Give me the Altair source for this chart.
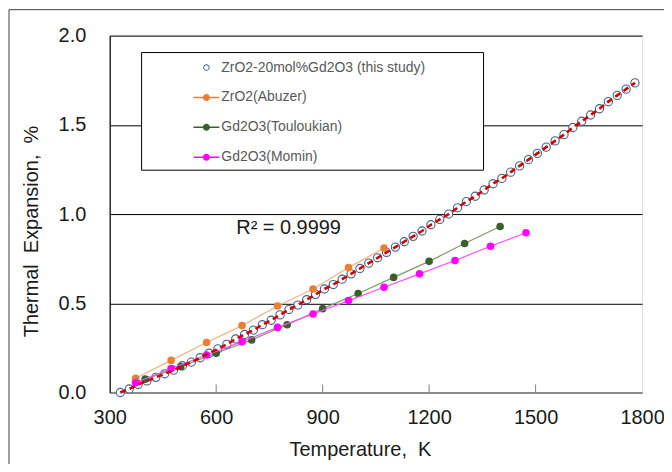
import altair as alt
import pandas as pd

# ---------------- data ----------------
series_names = ["ZrO2-20mol%Gd2O3 (this study)", "ZrO2(Abuzer)",
                "Gd2O3(Touloukian)", "Gd2O3(Momin)"]

study_T = [330, 355, 380, 405, 430, 455, 480, 505, 530, 555, 580, 605, 630, 655,
           680, 705, 730, 755, 780, 805, 830, 855, 880, 905, 930, 955, 980, 1005,
           1030, 1055, 1080, 1105, 1130, 1155, 1180, 1205, 1230, 1255, 1280, 1305,
           1330, 1355, 1380, 1405, 1430, 1455, 1480, 1505, 1530, 1555, 1580, 1605,
           1630, 1655, 1680, 1705, 1730, 1755, 1780]
study_val = [0.000, 0.020, 0.045, 0.065, 0.085, 0.105, 0.125, 0.150, 0.170, 0.195,
             0.220, 0.245, 0.270, 0.300, 0.325, 0.350, 0.380, 0.405, 0.435, 0.465,
             0.490, 0.520, 0.550, 0.580, 0.605, 0.635, 0.665, 0.695, 0.725, 0.755,
             0.785, 0.815, 0.845, 0.875, 0.905, 0.940, 0.970, 1.000, 1.035, 1.070,
             1.100, 1.135, 1.170, 1.200, 1.235, 1.270, 1.305, 1.340, 1.375, 1.410,
             1.445, 1.485, 1.520, 1.555, 1.590, 1.630, 1.665, 1.700, 1.735]

abuzer_T = [373, 473, 573, 673, 773, 873, 973, 1073]
abuzer_val = [0.08, 0.18, 0.28, 0.375, 0.485, 0.58, 0.70, 0.81]

toulou_T = [400, 500, 600, 700, 800, 900, 1000, 1100, 1200, 1300, 1400]
toulou_val = [0.075, 0.145, 0.22, 0.295, 0.38, 0.47, 0.555, 0.645, 0.735, 0.835, 0.93]

momin_T = [373, 473, 573, 673, 773, 873, 973, 1073, 1173, 1273, 1373, 1473]
momin_val = [0.055, 0.135, 0.21, 0.285, 0.365, 0.44, 0.515, 0.59, 0.665, 0.74, 0.82, 0.895]

r2_T = [804]
r2_val = [0.922]
r2_text = ["R\u00b2 = 0.9999"]

x_ticks = [300, 600, 900, 1200, 1500, 1800]
inner_ticks = [600, 900, 1200, 1500]
y_ticks = [0.0, 0.5, 1.0, 1.5, 2.0]

NB = "\u00a0"
x_title = "Temperature," + NB + NB + "K"
y_title = "Thermal" + NB + NB + "Expansion," + NB + NB + "%"

# ---------------- styles ----------------
FONT = "Liberation Sans"
TXT = "#1a1a1a"
dot_colors = ["#44618F", "#ED7D31", "#3B5E2B", "#FF00FF"]
line_colors = {"ab": "#F4B183", "tl": "#7E9B6A", "mo": "#FF4DFF"}

ring = ("M-0.25,0A0.25,0.25 0 1,1 0.25,0A0.25,0.25 0 1,1 -0.25,0Z "
        "M-0.18,0A0.18,0.18 0 1,0 0.18,0A0.18,0.18 0 1,0 -0.18,0Z")
linedot = ("M-1,-0.055H1V0.055H-1Z "
           "M-0.27,0A0.27,0.27 0 1,1 0.27,0A0.27,0.27 0 1,1 -0.27,0Z")
shape_paths = [ring, linedot, linedot, linedot]

x_enc = alt.X("T:Q",
              scale=alt.Scale(domain=[300, 1800], nice=False, zero=False),
              axis=alt.Axis(values=x_ticks, format="d", title=x_title, grid=False,
                            ticks=False, tickSize=0, labelPadding=15,
                            labelFontSize=20, labelFont=FONT, labelColor=TXT,
                            labelFlush=False, labelOverlap=False,
                            titleFontSize=20, titleFont=FONT, titleColor=TXT,
                            titleFontWeight="normal", titleX=251, titleY=57,
                            titleBaseline="middle", titleAlign="center",
                            domainColor="#7f7f7f", domainWidth=1.5))
y_enc = alt.Y("v:Q",
              scale=alt.Scale(domain=[0, 2], nice=False, zero=True),
              axis=alt.Axis(values=y_ticks, format=".1f",
                            title=y_title, grid=True,
                            gridColor={"condition": {"test": "datum.value === 0", "value": "#7f7f7f"},
                                       "value": "#000000"},
                            gridWidth=1, ticks=False, tickSize=0, labelPadding=24,
                            labelFontSize=20, labelFont=FONT, labelColor=TXT,
                            labelFlush=False, labelOverlap=False,
                            titleFontSize=20, titleFont=FONT, titleColor=TXT,
                            titleFontWeight="normal", titleX=-78, titleY=196,
                            titleAngle=270, titleBaseline="middle", titleAlign="center",
                            domainColor="#000000", domainWidth=1.2))

study_df = pd.DataFrame({"T": study_T, "v": study_val})
ab_df = pd.DataFrame({"T": abuzer_T, "v": abuzer_val})
tl_df = pd.DataFrame({"T": toulou_T, "v": toulou_val})
mo_df = pd.DataFrame({"T": momin_T, "v": momin_val})
r2_df = pd.DataFrame({"T": r2_T, "v": r2_val, "label": r2_text})
tick_df = pd.DataFrame({"T": inner_ticks})
one = pd.DataFrame({"k": [0]})

# outer frame and legend box (decoration)
frame = alt.Chart(one).mark_rect(fillOpacity=0, stroke="#404040", strokeWidth=1).encode(
    x=alt.value(-101), x2=alt.value(620), y=alt.value(-26), y2=alt.value(470))
legend_box = alt.Chart(one).mark_rect(fill="white", stroke="#000000", strokeWidth=1).encode(
    x=alt.value(32), x2=alt.value(375), y=alt.value(17), y2=alt.value(135))

study_pts = alt.Chart(study_df).mark_point(
    shape="circle", size=68, filled=False, fill="white", fillOpacity=1,
    stroke=dot_colors[0], strokeWidth=1.1, opacity=1).encode(x=x_enc, y=y_enc)

def series(df, lc, dc):
    ln = alt.Chart(df).mark_line(color=lc, strokeWidth=1.2).encode(x=x_enc, y=y_enc)
    pt = alt.Chart(df).mark_point(shape="circle", filled=True, size=58, color=dc,
                                  opacity=1, strokeWidth=0).encode(x=x_enc, y=y_enc)
    return ln, pt

ab_line, ab_pts = series(ab_df, line_colors["ab"], dot_colors[1])
tl_line, tl_pts = series(tl_df, line_colors["tl"], dot_colors[2])
mo_line, mo_pts = series(mo_df, line_colors["mo"], dot_colors[3])

fit = alt.Chart(study_df).mark_line(color="#D00000", strokeWidth=2.6,
                                    strokeDash=[6, 4]).encode(x=x_enc, y=y_enc)

ticks = alt.Chart(tick_df).mark_rule(color="#7f7f7f", strokeWidth=1).encode(
    x=x_enc, y=alt.datum(0), y2=alt.datum(0.045))

r2 = alt.Chart(r2_df).mark_text(fontSize=20, font=FONT, color=TXT, align="center",
                                baseline="middle").encode(x=x_enc, y=y_enc, text="label:N")

leg = alt.Legend(orient="none", legendX=84, legendY=19, title=None, padding=0,
                 rowPadding=10, labelOffset=2, symbolSize=676, symbolStrokeWidth=0,
                 labelFontSize=14, labelFont=FONT, labelColor="#595959",
                 labelLimit=400, symbolOpacity=1)
legend_layer = alt.Chart(pd.DataFrame({"series": series_names})).mark_point(
    filled=True, opacity=1).transform_filter("false").encode(
    color=alt.Color("series:N", scale=alt.Scale(domain=series_names, range=dot_colors), legend=leg),
    shape=alt.Shape("series:N", scale=alt.Scale(domain=series_names, range=shape_paths), legend=leg))

chart = alt.layer(
    frame, legend_box, study_pts, ab_line, ab_pts, tl_line, tl_pts, mo_line, mo_pts,
    fit, ticks, r2, legend_layer
).properties(
    width=534, height=358,
    padding={"left": 102, "top": 27, "right": 22, "bottom": 71},
    autosize=alt.AutoSizeParams(type="none"),
).configure_view(stroke="#7f7f7f", strokeWidth=1.5).configure(font=FONT, background="white")

chart.save("out.html", embed_options={"renderer": "svg", "actions": False})
